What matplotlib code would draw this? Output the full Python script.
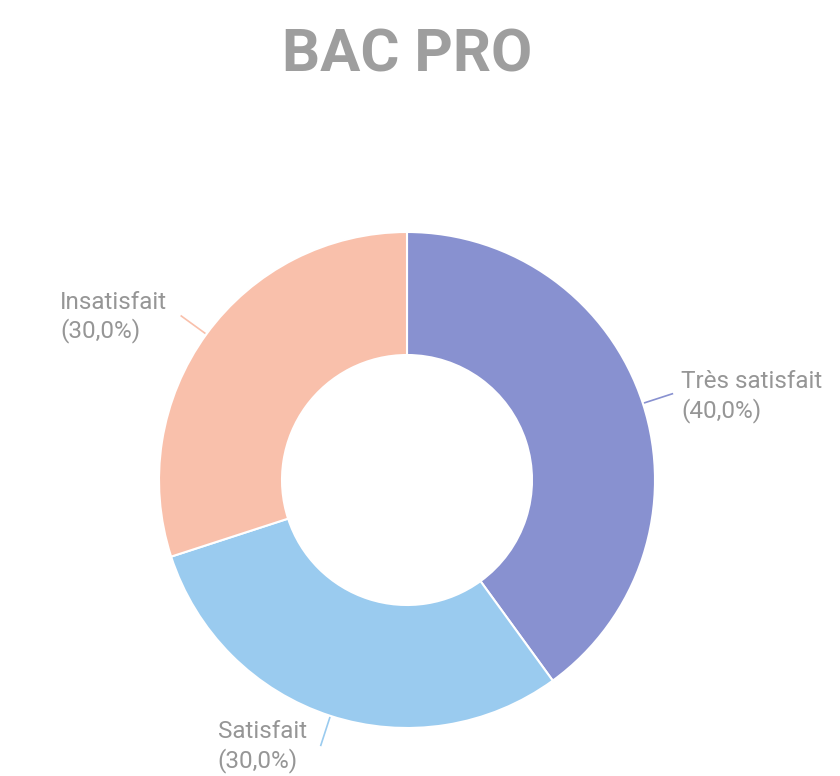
import numpy as np
import matplotlib.pyplot as plt

# donut data
labels = ['Très satisfait', 'Satisfait', 'Insatisfait']
values = [40.0, 30.0, 30.0]
colors = ['#8891d0', '#9acbef', '#f9c0ab']

plt.rcParams['font.family'] = ['Roboto', 'DejaVu Sans']

fig = plt.figure(figsize=(8.4, 7.76), dpi=100)
ax = fig.add_axes([0, 0, 1, 1])

# pixel-like coords, y measured from the bottom
cx, cy = 407, 776 - 480
R = 248
wedges, _ = ax.pie(values, colors=colors, startangle=90, counterclock=False,
                   radius=R, center=(cx, cy),
                   wedgeprops=dict(width=R - 125, edgecolor='white', linewidth=1.5))
ax.set_xlim(0, 840)
ax.set_ylim(0, 776)
ax.set_aspect('auto')
ax.axis('off')

# text offsets from the end of each leader line (in pixels)
offsets = [(9, -3), (-103, -1), (-121, -1)]

for w, lab, val, col, (dx, dy) in zip(wedges, labels, values, colors, offsets):
    mid = np.deg2rad((w.theta1 + w.theta2) / 2)
    x0, y0 = cx + (R + 2) * np.cos(mid), cy + (R + 2) * np.sin(mid)
    x1, y1 = cx + (R + 31) * np.cos(mid), cy + (R + 31) * np.sin(mid)
    ax.plot([x0, x1], [y0, y1], color=col, lw=1.2)
    txt = ('%s\n(%.1f%%)' % (lab, val)).replace('.', ',')
    ax.text(x1 + dx, y1 + dy, txt, ha='left', va='center', fontsize=17.5,
            color='#969696', linespacing=1.25)

fig.text(407 / 840, 1 - 55 / 776, 'BAC PRO', ha='center', va='center',
         fontsize=43, fontweight='bold', color='#9e9e9e')

fig.savefig('out.png', dpi=100, facecolor='white')
